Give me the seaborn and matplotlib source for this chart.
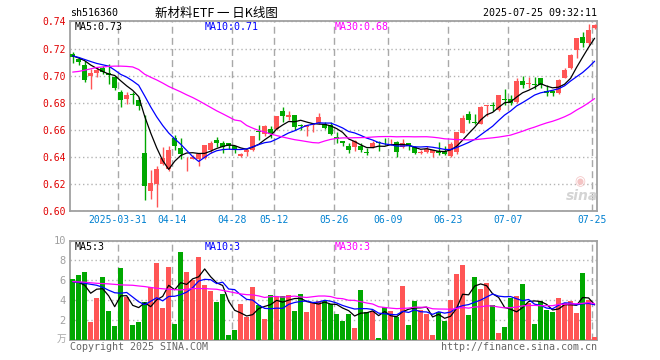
import numpy as np
import pandas as pd
import matplotlib
matplotlib.use("Agg")
import matplotlib.pyplot as plt
import seaborn as sns

# ---------------- data ----------------
open_ = [0.7156, 0.7119, 0.7075, 0.6999, 0.7019, 0.7055, 0.7021, 0.6989, 0.6879, 0.6830,
         0.6867, 0.6818, 0.6426, 0.6151, 0.6200, 0.6347, 0.6308, 0.6539, 0.6463, 0.6397,
         0.6387, 0.6382, 0.6394, 0.6450, 0.6528, 0.6499, 0.6499, 0.6479, 0.6406, 0.6436,
         0.6450, 0.6591, 0.6572, 0.6608, 0.6606, 0.6739, 0.6693, 0.6710, 0.6632, 0.6620,
         0.6637, 0.6649, 0.6642, 0.6637, 0.6550, 0.6514, 0.6482, 0.6473, 0.6482, 0.6434,
         0.6473, 0.6509, 0.6510, 0.6507, 0.6509, 0.6473, 0.6502, 0.6470, 0.6432, 0.6436,
         0.6429, 0.6446, 0.6441, 0.6405, 0.6434, 0.6579, 0.6715, 0.6659, 0.6646, 0.6773,
         0.6780, 0.6749, 0.6829, 0.6827, 0.6805, 0.6961, 0.6937, 0.6937, 0.6980, 0.6888,
         0.6883, 0.6871, 0.6985, 0.7054, 0.7188, 0.7285, 0.7241, 0.7354]
high = [0.7178, 0.7136, 0.7107, 0.7051, 0.7063, 0.7068, 0.7087, 0.6994, 0.6891, 0.6879,
        0.6879, 0.6842, 0.6708, 0.6300, 0.6335, 0.6475, 0.6480, 0.6560, 0.6541, 0.6401,
        0.6413, 0.6426, 0.6491, 0.6516, 0.6547, 0.6516, 0.6499, 0.6479, 0.6431, 0.6460,
        0.6552, 0.6637, 0.6637, 0.6625, 0.6698, 0.6771, 0.6742, 0.6710, 0.6642, 0.6637,
        0.6649, 0.6722, 0.6661, 0.6661, 0.6582, 0.6514, 0.6502, 0.6526, 0.6502, 0.6465,
        0.6514, 0.6514, 0.6538, 0.6531, 0.6514, 0.6533, 0.6502, 0.6478, 0.6453, 0.6478,
        0.6453, 0.6509, 0.6482, 0.6507, 0.6587, 0.6708, 0.6737, 0.6717, 0.6773, 0.6780,
        0.6805, 0.6859, 0.6902, 0.6859, 0.6985, 0.6998, 0.6993, 0.6993, 0.6980, 0.6932,
        0.6895, 0.6973, 0.7054, 0.7156, 0.7278, 0.7322, 0.7378, 0.7380]
low = [0.7092, 0.7075, 0.6953, 0.6904, 0.6989, 0.7014, 0.6940, 0.6891, 0.6769, 0.6793,
       0.6793, 0.6744, 0.6083, 0.6090, 0.6032, 0.6340, 0.6298, 0.6450, 0.6382, 0.6298,
       0.6382, 0.6333, 0.6382, 0.6431, 0.6474, 0.6431, 0.6460, 0.6426, 0.6401, 0.6406,
       0.6443, 0.6528, 0.6557, 0.6540, 0.6601, 0.6654, 0.6674, 0.6601, 0.6596, 0.6552,
       0.6581, 0.6642, 0.6606, 0.6564, 0.6502, 0.6478, 0.6429, 0.6441, 0.6434, 0.6417,
       0.6465, 0.6441, 0.6490, 0.6490, 0.6400, 0.6465, 0.6449, 0.6424, 0.6422, 0.6429,
       0.6400, 0.6417, 0.6410, 0.6400, 0.6424, 0.6575, 0.6651, 0.6639, 0.6644, 0.6705,
       0.6737, 0.6741, 0.6785, 0.6780, 0.6798, 0.6907, 0.6912, 0.6902, 0.6912, 0.6846,
       0.6846, 0.6863, 0.6980, 0.7049, 0.7132, 0.7212, 0.7229, 0.7341]
close = [0.7141, 0.7100, 0.6965, 0.7019, 0.7043, 0.7026, 0.7006, 0.6911, 0.6823, 0.6855,
         0.6860, 0.6776, 0.6181, 0.6210, 0.6308, 0.6389, 0.6450, 0.6480, 0.6421, 0.6401,
         0.6401, 0.6421, 0.6484, 0.6504, 0.6499, 0.6474, 0.6479, 0.6460, 0.6418, 0.6450,
         0.6552, 0.6581, 0.6630, 0.6569, 0.6698, 0.6698, 0.6710, 0.6620, 0.6625, 0.6632,
         0.6642, 0.6691, 0.6610, 0.6569, 0.6531, 0.6502, 0.6449, 0.6514, 0.6449, 0.6429,
         0.6499, 0.6504, 0.6507, 0.6510, 0.6434, 0.6502, 0.6478, 0.6429, 0.6436, 0.6456,
         0.6453, 0.6429, 0.6422, 0.6497, 0.6587, 0.6684, 0.6670, 0.6651, 0.6768, 0.6780,
         0.6773, 0.6854, 0.6822, 0.6798, 0.6961, 0.6932, 0.6944, 0.6932, 0.6932, 0.6873,
         0.6868, 0.6968, 0.7041, 0.7151, 0.7278, 0.7241, 0.7334, 0.7376]
volume = [6.10, 6.54, 6.85, 1.81, 4.23, 6.34, 2.95, 1.41, 7.25, 4.30,
          1.51, 1.81, 3.83, 5.30, 7.75, 3.22, 7.38, 1.61, 8.86, 6.85,
          6.04, 8.39, 5.57, 4.93, 3.83, 4.66, 0.50, 1.01, 3.62, 2.28,
          5.34, 3.52, 2.11, 4.53, 4.43, 4.43, 4.53, 2.92, 4.63, 2.82,
          3.76, 3.93, 3.93, 3.60, 2.65, 1.95, 2.62, 1.24, 5.03, 2.82,
          2.92, 0.23, 3.32, 2.92, 2.28, 5.44, 1.51, 3.93, 3.02, 2.62,
          0.50, 2.82, 1.95, 4.03, 6.64, 7.55, 2.52, 6.34, 5.13, 5.74,
          3.49, 0.70, 1.31, 4.23, 4.43, 5.64, 3.72, 1.61, 3.93, 3.02,
          2.82, 4.23, 3.72, 3.93, 2.72, 6.74, 4.03, 0.30]

# moving-average values at the start of the window (history before the chart)
ma5_head = [0.7146, 0.7130, 0.7110, 0.7078]
ma10_head = [0.7146, 0.7134, 0.7119, 0.7104, 0.7090, 0.7080, 0.7070, 0.7041, 0.7009]
ma30_head = [0.7026, 0.7031, 0.7040, 0.7050, 0.7060, 0.7064, 0.7068, 0.7070, 0.7070, 0.7068,
             0.7064, 0.7045, 0.7010, 0.6988, 0.6968, 0.6945, 0.6920, 0.6900, 0.6880, 0.6858,
             0.6838, 0.6815, 0.6790, 0.6765, 0.6740, 0.6718, 0.6695, 0.6672, 0.6665]
vma5_head = [5.87, 5.80, 5.50, 4.70]
vma10_head = [5.87, 5.80, 5.70, 5.60, 5.50, 5.30, 5.00, 4.75, 4.70]
vma30_head = [5.87, 5.84, 5.81, 5.75, 5.70, 5.67, 5.64, 5.59, 5.54, 5.52,
              5.50, 5.43, 5.37, 5.28, 5.20, 5.15, 5.10, 5.06, 5.03, 5.10,
              5.17, 5.17, 5.17, 5.13, 5.10, 4.98, 4.87, 4.75, 4.63]

holidays = ["2025-04-04", "2025-05-01", "2025-05-02", "2025-05-05", "2025-06-02"]
tick_dates = ["2025-03-31", "2025-04-14", "2025-04-28", "2025-05-12", "2025-05-26",
              "2025-06-09", "2025-06-23", "2025-07-07", "2025-07-25"]
tick_labels = ["2025-03-31", "04-14", "04-28", "05-12", "05-26", "06-09", "06-23", "07-07", "07-25"]
price_ticks = [0.60, 0.62, 0.64, 0.66, 0.68, 0.70, 0.72, 0.74]
vol_ticks = [2, 4, 6, 8, 10]

# ---------------- derived ----------------
dates = pd.bdate_range("2025-03-19", "2025-07-25")
dates = dates[~dates.isin(pd.to_datetime(holidays))]
n = len(close)
idx = np.arange(n)
df = pd.DataFrame({"idx": idx, "open": open_, "high": high, "low": low,
                   "close": close, "vol": volume}, index=dates[:n])
df["dir"] = np.where(df["close"] >= df["open"], "up", "down")


def ma(series, w, head):
    m = series.rolling(w).mean().to_numpy()
    m[:len(head)] = head
    return m


df["ma5"] = ma(df["close"], 5, ma5_head)
df["ma10"] = ma(df["close"], 10, ma10_head)
df["ma30"] = ma(df["close"], 30, ma30_head)
df["vma5"] = ma(df["vol"], 5, vma5_head)
df["vma10"] = ma(df["vol"], 10, vma10_head)
df["vma30"] = ma(df["vol"], 30, vma30_head)

tick_pos = [int(df.loc[pd.Timestamp(d), "idx"]) - 0.45 for d in tick_dates]

# ---------------- style ----------------
sns.set_theme(style="white")
MONO = ["DejaVu Sans Mono"]
plt.rcParams["font.family"] = MONO
RED = "#ff5555"
GREEN = "#00a800"
GRID = "#a8a8a8"
BORDER = "#a0a0a0"

W, H = 660, 360
fig = plt.figure(figsize=(W / 100, H / 100), dpi=100)
fig.patch.set_facecolor("white")


def px_axes(l, t, r, b):
    return fig.add_axes([l / W, 1 - b / H, (r - l) / W, (b - t) / H])


ax = px_axes(70, 20.5, 597, 211)
axv = px_axes(70, 240.5, 597, 340)

xlim = (-0.45, 87.4)

# ---- price panel ----
colors = np.where(df["dir"] == "up", RED, GREEN)
ax.vlines(df["idx"], df["low"], df["high"], colors=colors, lw=1.0, zorder=3)
body_lo = np.minimum(df["open"], df["close"])
body_h = np.maximum(np.abs(df["close"] - df["open"]), 0.0004)
ax.bar(df["idx"], body_h, bottom=body_lo, width=0.75, color=colors, linewidth=0, zorder=4)

sns.lineplot(x=df["idx"], y=df["ma5"], color="black", lw=0.9, ax=ax, zorder=5)
sns.lineplot(x=df["idx"], y=df["ma10"], color="#0000ff", lw=0.9, ax=ax, zorder=5)
sns.lineplot(x=df["idx"], y=df["ma30"], color="#ff00ff", lw=0.9, ax=ax, zorder=5)

ax.set_xlim(*xlim)
ax.set_ylim(0.60, 0.7407)
ax.set_yticks(price_ticks)
ax.set_yticklabels([f"{v:.2f}" for v in price_ticks])
ax.set_xticks(tick_pos)
ax.set_xticklabels(tick_labels)
ax.tick_params(axis="y", colors="#e00000", labelsize=7, length=0, pad=3)
ax.tick_params(axis="x", colors="#0080d0", labelsize=7, length=0, pad=3)
ax.grid(axis="x", linestyle=(0, (5, 3)), color=GRID, lw=1.0)
ax.grid(axis="y", linestyle=(0, (1, 2)), color="#b4b4b4", lw=1.0)
ax.set_xlabel("")
ax.set_ylabel("")

# ---- volume panel ----
sns.barplot(data=df, x="idx", y="vol", hue="dir", palette={"up": RED, "down": GREEN},
            native_scale=True, dodge=False, width=0.83, errorbar=None, legend=False,
            saturation=1, linewidth=0, ax=axv, zorder=3)
sns.lineplot(x=df["idx"], y=df["vma5"], color="black", lw=0.9, ax=axv, zorder=5)
sns.lineplot(x=df["idx"], y=df["vma10"], color="#0000ff", lw=0.9, ax=axv, zorder=5)
sns.lineplot(x=df["idx"], y=df["vma30"], color="#ff00ff", lw=0.9, ax=axv, zorder=5)
axv.set_xlim(*xlim)
axv.set_ylim(0, 10)
axv.set_yticks(vol_ticks)
axv.set_yticklabels([str(v) for v in vol_ticks])
axv.set_xticks(tick_pos)
axv.set_xticklabels([])
axv.tick_params(axis="y", colors="#a0a0a0", labelsize=7.5, length=0, pad=3)
axv.tick_params(axis="x", length=0)
axv.grid(axis="x", linestyle=(0, (5, 3)), color=GRID, lw=1.0)
axv.grid(axis="y", linestyle=(0, (1, 2)), color="#b4b4b4", lw=1.0)
axv.set_xlabel("")
axv.set_ylabel("")

for a in (ax, axv):
    a.set_facecolor("white")
    a.set_axisbelow(True)
    for s in a.spines.values():
        s.set_color(BORDER)
        s.set_linewidth(1.3)
        s.set_visible(True)


# ---- texts ----
def ftext(x, y, s, **kw):
    kw.setdefault("fontsize", 7.2)
    kw.setdefault("va", "center")
    fig.text(x / W, 1 - y / H, s, **kw)


ftext(70, 13, "sh516360", color="black")
ftext(216, 13, "新材料ETF 一 日K线图", ha="center", fontsize=9,
      family=["Noto Sans CJK SC", "DejaVu Sans"], color="black")
ftext(597, 13, "2025-07-25 09:32:11", ha="right", color="black")

last = df.iloc[-1]
ftext(75, 26.5, f"MA5:{last['ma5']:.2f}", color="black")
ftext(205, 26.5, f"MA10:{last['ma10']:.2f}", color="#0000ff")
ftext(335, 26.5, f"MA30:{last['ma30']:.2f}", color="#ff00ff")
ftext(75, 246.5, f"MA5:{int(last['vma5'])}", color="black")
ftext(205, 246.5, f"MA10:{int(last['vma10'])}", color="#0000ff")
ftext(335, 246.5, f"MA30:{int(last['vma30'])}", color="#ff00ff")

ftext(66, 339, "万", ha="right", fontsize=7, color="#a8a8a8",
      family=["Noto Sans CJK SC", "DejaVu Sans"])
ftext(70, 347, "Copyright 2025 SINA.COM", color="#666666")
ftext(597, 347, "http://finance.sina.com.cn", ha="right", color="#666666")

# faint sina watermark
ftext(580, 182, "◉", ha="center", fontsize=9, color="#f4c4c4", family=["DejaVu Sans"])
ftext(582, 196, "sina", ha="center", fontsize=10, color="#d4d4d4",
      family=["DejaVu Sans"], fontweight="bold", style="italic")

fig.savefig("out.png", dpi=100, facecolor="white")
